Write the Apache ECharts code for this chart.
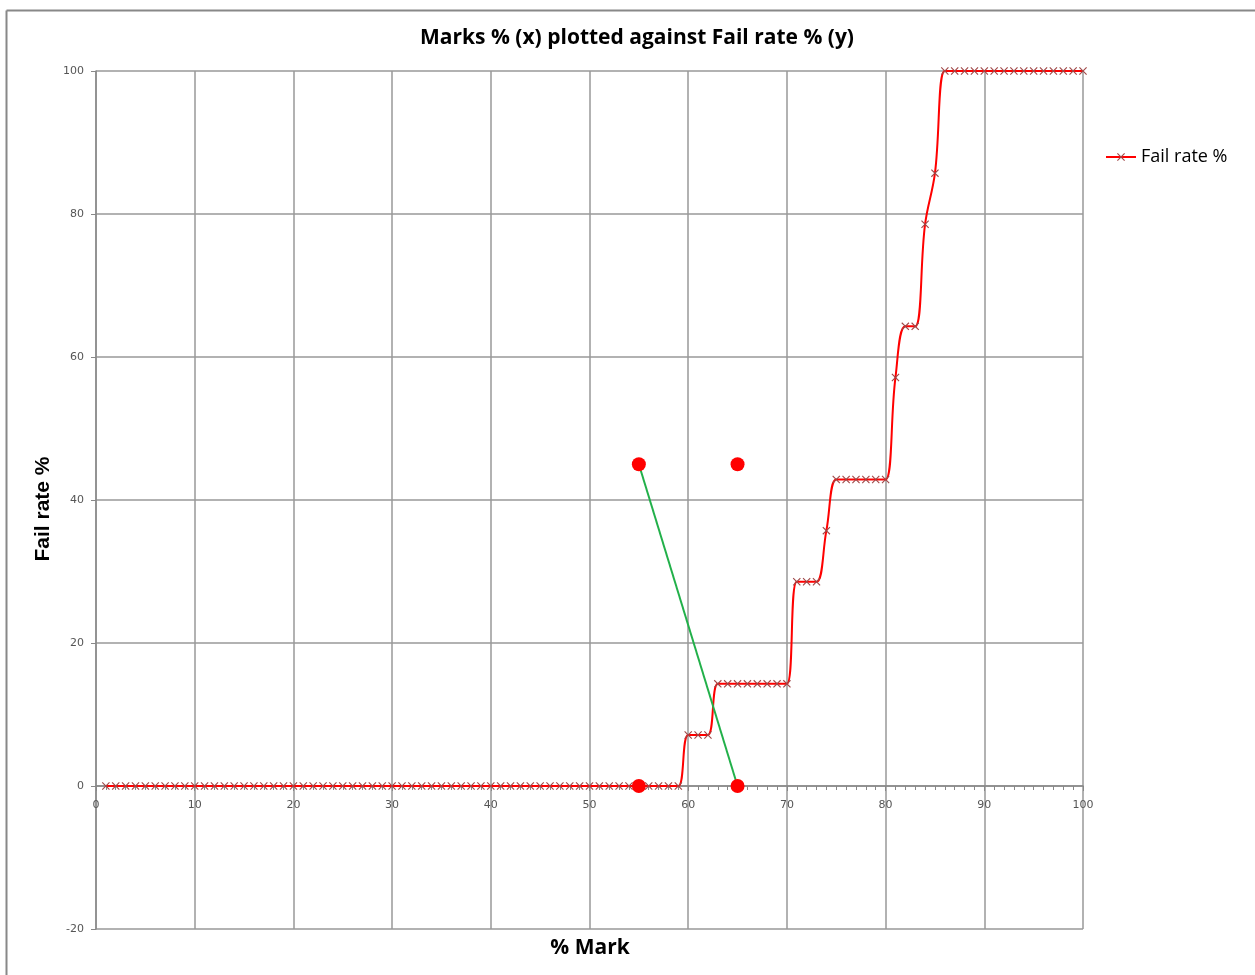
<!DOCTYPE html>
<html>
<head>
<meta charset="utf-8">
<script src="https://cdn.jsdelivr.net/npm/echarts@6/dist/echarts.min.js"></script>
<style>
html,body{margin:0;padding:0;background:#fff;}
#c{width:1255px;height:975px;}
</style>
</head>
<body>
<div id="c"></div>
<script>
var marks = [1,2,3,4,5,6,7,8,9,10,11,12,13,14,15,16,17,18,19,20,
  21,22,23,24,25,26,27,28,29,30,31,32,33,34,35,36,37,38,39,40,
  41,42,43,44,45,46,47,48,49,50,51,52,53,54,55,56,57,58,59,60,
  61,62,63,64,65,66,67,68,69,70,71,72,73,74,75,76,77,78,79,80,
  81,82,83,84,85,86,87,88,89,90,91,92,93,94,95,96,97,98,99,100];
var failRate = [0,0,0,0,0,0,0,0,0,0,0,0,0,0,0,0,0,0,0,0,
  0,0,0,0,0,0,0,0,0,0,0,0,0,0,0,0,0,0,0,0,
  0,0,0,0,0,0,0,0,0,0,0,0,0,0,0,0,0,0,0,7.14,
  7.14,7.14,14.29,14.29,14.29,14.29,14.29,14.29,14.29,14.29,28.57,28.57,28.57,35.71,42.86,42.86,42.86,42.86,42.86,42.86,
  57.14,64.29,64.29,78.57,85.71,100,100,100,100,100,100,100,100,100,100,100,100,100,100,100];
var dotX = [55, 65, 55, 65];
var dotY = [45, 45, 0, 0];
var greenX = [55, 65];
var greenY = [45, 0];
var xTicks = [0,10,20,30,40,50,60,70,80,90,100];
var yTicks = [-20,0,20,40,60,80,100];

var lineData = marks.map(function(m, i){ return [m, failRate[i]]; });
var dotData = dotX.map(function(x, i){ return [x, dotY[i]]; });
var greenData = greenX.map(function(x, i){ return [x, greenY[i]]; });

var xPath = 'path://M0,1L1,0L5,4L9,0L10,1L6,5L10,9L9,10L5,6L1,10L0,9L4,5Z';

var chart = echarts.init(document.getElementById('c'));
chart.setOption({
  animation: false,
  backgroundColor: '#fff',
  title: {
    text: 'Marks % (x) plotted against Fail rate % (y)',
    left: 632, top: 23, textAlign: 'center',
    textStyle: {fontFamily: 'Open Sans', fontWeight: 'bold', fontSize: 21, color: '#000'}
  },
  legend: {
    data: ['Fail rate %'],
    left: 1100, top: 143,
    itemWidth: 30, itemHeight: 10, itemGap: 4,
    textStyle: {fontFamily: 'Open Sans', fontSize: 18, color: '#000'}
  },
  grid: {left: 96, right: 172, top: 71, bottom: 46},
  xAxis: {
    type: 'value', min: xTicks[0], max: xTicks[xTicks.length-1], interval: 10,
    axisLine: {onZero: true, lineStyle: {color: '#888', width: 1.5}},
    axisTick: {show: true, length: 5, lineStyle: {color: '#888'}},
    minorTick: {show: true, splitNumber: 10, length: 4, lineStyle: {color: '#888'}},
    axisLabel: {fontFamily: 'DejaVu Sans', fontSize: 11, color: '#555', margin: -129},
    splitLine: {show: true, lineStyle: {color: '#999', width: 1.5}}
  },
  yAxis: {
    type: 'value', min: yTicks[0], max: yTicks[yTicks.length-1], interval: 20,
    axisLine: {show: true, onZero: false, lineStyle: {color: '#888', width: 1.5}},
    axisTick: {show: true, length: 5, lineStyle: {color: '#888'}},
    axisLabel: {fontFamily: 'DejaVu Sans', fontSize: 11, color: '#555', margin: 12},
    splitLine: {show: true, lineStyle: {color: '#999', width: 1.5}}
  },
  graphic: [
    {type: 'line', shape: {x1: 6.5, y1: 10.5, x2: 1255, y2: 10.5}, style: {stroke: '#888', lineWidth: 2}},
    {type: 'line', shape: {x1: 6.5, y1: 10.5, x2: 6.5, y2: 975}, style: {stroke: '#888', lineWidth: 2}},
    {type: 'text', x: 590, y: 948, style: {text: '% Mark', font: 'bold 21px "Open Sans"', fill: '#000', textAlign: 'center', textVerticalAlign: 'middle'}},
    {type: 'text', x: 43, y: 509, rotation: Math.PI / 2, style: {text: 'Fail rate %', font: 'bold 21px "Liberation Sans"', fill: '#000', textAlign: 'center', textVerticalAlign: 'middle'}}
  ],
  series: [
    {
      name: 'Fail rate %', type: 'line', data: lineData, smooth: 0.4,
      symbol: xPath, symbolSize: 8, showAllSymbol: true,
      lineStyle: {color: '#ff0000', width: 2},
      itemStyle: {color: '#a04848'},
      z: 3
    },
    {
      name: 'green', type: 'line', data: greenData, symbol: 'none',
      lineStyle: {color: '#22b04a', width: 2}, z: 4
    },
    {
      name: 'dots', type: 'scatter', data: dotData, symbol: 'circle', symbolSize: 14,
      itemStyle: {color: '#ff0000', opacity: 1}, z: 5
    }
  ]
});
</script>
</body>
</html>
